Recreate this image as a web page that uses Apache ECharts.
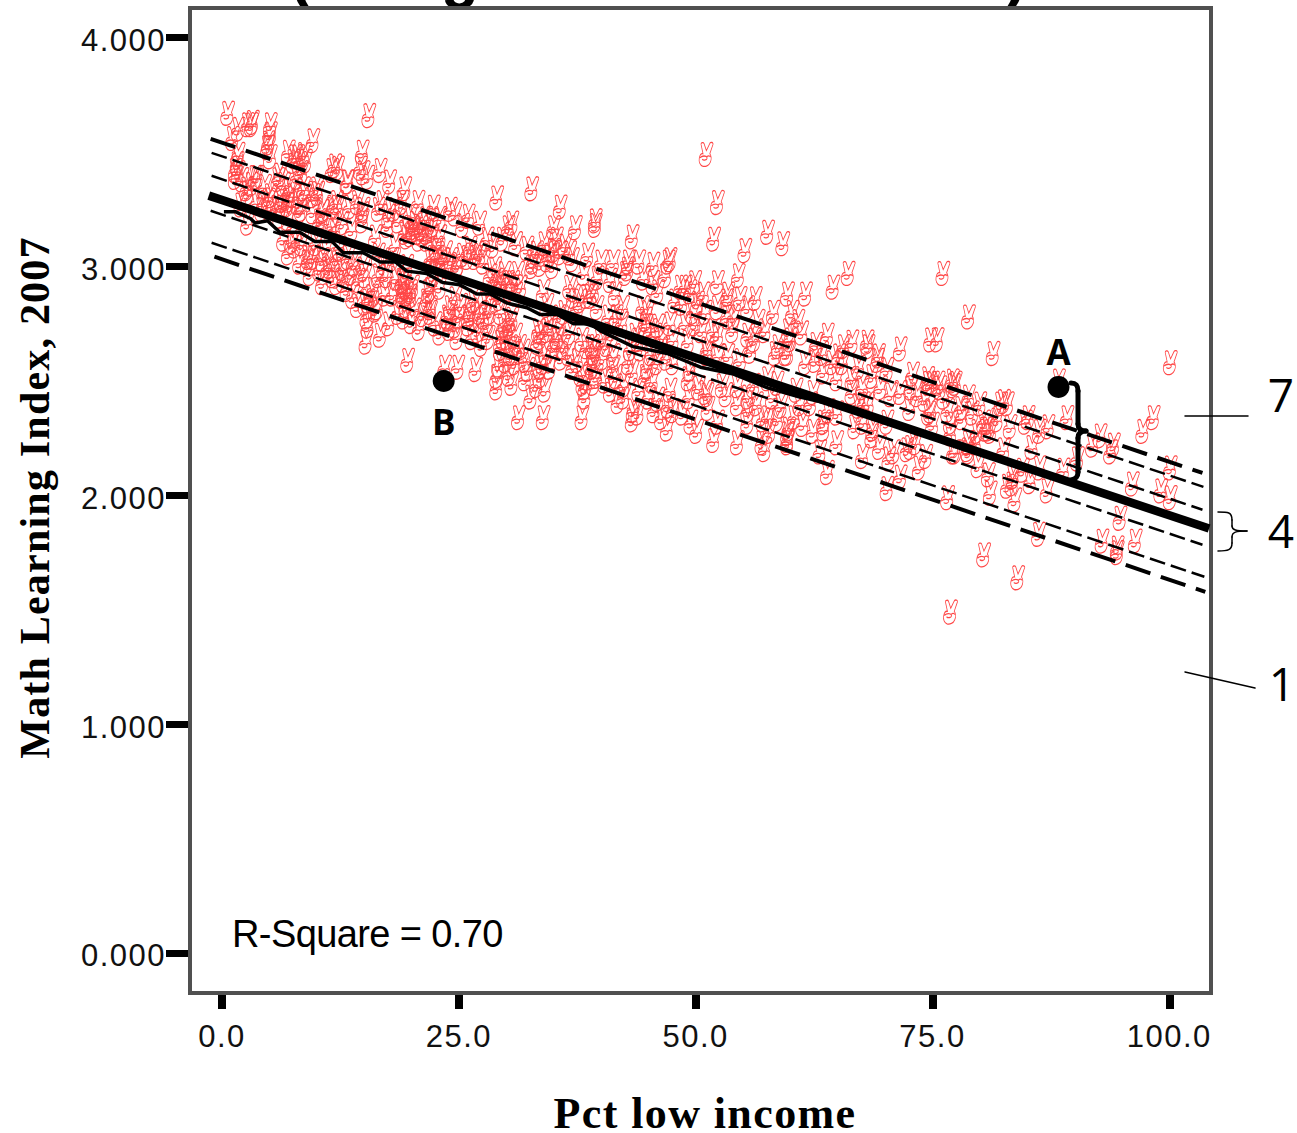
<!DOCTYPE html>
<html>
<head>
<meta charset="utf-8">
<title>Math Learning Index vs Pct low income</title>
<script src="https://cdn.jsdelivr.net/npm/echarts@6/dist/echarts.min.js"></script>
<style>
html,body{margin:0;padding:0;background:#fff}
#chart{width:1297px;height:1133px}
text[style*="31px"]{letter-spacing:1.5px}
text[style*="38px"]{letter-spacing:-0.6px}
text[style*="44px"]{letter-spacing:1.4px}
text[style*="42px"]{letter-spacing:1.2px}
</style>
</head>
<body>
<div id="chart"></div>
<script>
const xAxisTicks = [0, 25, 50, 75, 100];
const yAxisTicks = [0, 1, 2, 3, 4];
const xAxisTitle = 'Pct low income';
const yAxisTitle = 'Math Learning Index, 2007';
const rSquareNote = 'R-Square = 0.70';

const schoolsLowPoverty = [
[0.6,3.67],[1.7,3.60],[1.1,3.56],[2.7,3.62],[3.1,3.62],[3.2,3.63],[5.1,3.62],[5.1,3.58],[4.9,3.54],[4.8,3.52],
[5.1,3.48],[1.7,3.49],[1.6,3.45],[1.4,3.42],[1.7,3.41],[1.4,3.39],[9.6,3.55],[7.0,3.50],[7.7,3.48],[8.0,3.48],
[8.6,3.49],[7.5,3.46],[8.2,3.45],[8.8,3.46],[6.1,3.40],[5.9,3.38],[7.9,3.39],[8.4,3.41],[3.5,3.39],[2.7,3.32],
[4.5,3.35],[4.3,3.27],[4.9,3.29],[4.2,3.25],[5.1,3.25],[6.3,3.29],[7.0,3.29],[5.8,3.26],[6.4,3.26],[8.0,3.28],
[8.4,3.25],[8.8,3.32],[10.1,3.32],[11.6,3.42],[12.2,3.43],[13.3,3.37],[14.8,3.50],[14.6,3.43],[14.9,3.41],[15.4,3.39],
[16.7,3.42],[17.7,3.37],[19.3,3.34],[15.5,3.66],[16.9,3.28],[16.5,3.25],[14.8,3.23],[14.8,3.20],[14.9,3.25],[13.5,3.26],
[12.2,3.26],[11.9,3.16],[12.7,3.19],[13.7,3.16],[10.6,3.24],[10.6,3.19],[11.6,3.18],[7.7,3.09],[9.1,3.04],[9.0,3.02],
[10.6,3.03],[10.3,2.99],[10.6,2.93],[12.1,3.03],[12.7,2.99],[12.1,2.93],[11.4,3.00],[14.4,2.94],[15.1,2.96],[15.4,2.85],
[15.1,2.84],[16.5,2.96],[17.4,2.96],[17.2,2.88],[16.2,2.81],[15.3,2.78],[15.4,2.74],[15.2,2.67],[16.2,3.13],[17.5,3.18],
[18.3,3.09],[19.3,3.15],[20.1,3.17],[19.5,3.00],[19.0,2.93],[19.5,2.88],[20.1,2.91],
[11.9,3.44],[13.2,3.37],[10.0,3.34],[9.6,3.31],[8.6,3.34],[3.7,3.28],[5.1,3.31],[2.6,3.34],[3.7,3.39],[7.5,3.31],
[8.2,3.24],[9.6,3.24],[10.7,3.25],[6.9,3.27],[10.3,3.20],[11.7,3.26],[12.1,3.28],[14.3,3.28],[9.6,3.04],[11.1,2.99],
[11.7,2.96],[12.8,2.94],[14.9,2.99],[17.0,2.99],[15.8,2.87],[16.4,2.82],[2.7,3.19],[7.4,3.11],
[12.4,3.08],[13.3,3.04],[14.0,3.01],[13.6,2.97],[13.2,2.90],[13.8,2.87],[14.3,2.83],[16.0,2.90],[16.5,3.05],[17.9,3.03],
[18.4,2.95],[18.0,2.88],[18.6,2.80],[17.6,2.75],[16.7,2.70],[6.5,3.12],[7.0,3.06],[8.2,3.02],[9.3,2.97],[9.9,3.10],
[11.0,3.08],[8.4,3.10],[2.1,3.38],[2.0,3.27],[3.1,3.36],[6.5,3.36],[7.1,3.33],[6.1,3.22],[7.0,3.21],[18.2,3.25],
[19.0,3.28],[17.6,3.22],[18.6,3.20]
];
const schoolsMidPoverty = [
[20.7,3.28],[22.3,3.26],[24.1,3.25],[24.6,3.23],[29.0,3.30],[32.7,3.34],[30.2,3.17],[30.6,3.19],[35.7,3.26],[35.0,3.17],
[37.3,3.17],[39.4,3.20],[19.9,3.22],[20.2,3.16],[20.7,3.15],[21.2,3.14],[19.5,3.13],[23.0,3.13],[22.3,3.04],[22.0,3.03],
[23.0,3.02],[23.3,3.03],[24.9,3.01],[27.2,3.05],[26.7,3.04],[25.9,3.04],[28.6,3.09],[35.0,3.07],[34.3,3.03],[33.6,3.01],
[36.7,3.06],[35.7,3.06],[34.6,3.05],[32.7,3.00],[29.0,2.94],[29.4,2.93],[30.1,2.93],[30.7,2.93],[28.3,2.96],[31.2,2.97],
[19.3,2.91],[19.9,2.89],[19.0,2.87],[21.8,2.89],[21.6,2.85],[22.0,2.82],[23.0,2.91],[24.1,2.82],[23.9,2.77],[26.2,2.81],
[26.0,2.78],[27.2,2.80],[26.0,2.75],[23.0,2.71],[22.5,2.75],[24.8,2.69],[24.6,2.74],[28.3,2.80],[28.0,2.75],[28.1,2.69],
[29.4,2.80],[29.7,2.74],[30.4,2.75],[30.1,2.69],[29.4,2.67],[30.7,2.62],[19.6,2.59],[23.5,2.56],[24.9,2.56],[26.8,2.55],
[29.0,2.52],[29.0,2.47],[30.6,2.49],[32.0,2.51],[31.3,2.34],[33.9,2.34],[38.0,2.34],[38.3,2.47],[38.3,2.43],[33.6,2.52],
[33.9,2.58],[33.3,2.67],[33.6,2.69],[34.3,2.72],[35.0,2.65],[35.4,2.68],[32.0,2.59],[33.9,2.89],[33.4,2.72],[36.7,2.91],
[37.8,2.85],[37.5,2.82],[38.9,2.87],[39.2,2.89],[36.7,2.71],[38.0,2.68],[39.1,2.65],[37.5,2.59],[39.2,2.62],[38.9,2.58],
[21.6,3.15],[22.7,3.04],[26.9,3.06],[27.6,3.02],[24.8,3.00],[32.8,3.02],[31.5,2.91],[29.0,2.91],[37.1,2.87],[38.5,2.87],
[19.1,2.89],[19.9,2.87],[19.0,2.94],[22.0,2.80],[22.3,2.96],[22.0,2.90],[23.8,2.78],[26.5,2.77],[27.6,2.78],[30.1,2.72],
[30.6,2.77],[29.7,2.69],[33.9,2.71],[35.4,2.69],[33.6,2.56],[29.4,2.64],[30.4,2.62],[38.1,2.49],[38.5,2.65],
[20.4,3.19],[21.0,3.17],[19.9,3.14],[20.8,3.12],[21.6,3.12],[22.2,3.13],[22.6,3.08],[23.6,3.06],[24.2,3.03],[23.8,3.00],
[25.4,3.05],[26.2,3.08],[28.8,2.99],[29.8,2.97],[30.4,2.90],[31.0,2.88],[28.6,2.88],[29.3,2.86],[33.2,3.06],[34.0,3.10],
[35.3,3.12],[36.2,3.09],[37.0,3.03],[34.9,3.00],[19.4,2.83],[20.3,2.81],[19.2,2.78],[20.0,2.76],[21.2,2.79],[20.8,2.73],
[24.6,2.86],[25.2,2.83],[25.0,2.78],[24.0,2.73],[26.6,2.85],[27.0,2.72],[26.4,2.69],[27.4,2.66],[27.9,2.84],[31.0,2.70],
[31.4,2.65],[30.9,2.58],[29.9,2.59],[29.2,2.57],[31.8,2.63],[32.3,2.55],[30.3,2.53],[34.2,2.62],[34.6,2.56],[35.8,2.60],
[36.0,2.65],[34.8,2.75],[35.6,2.78],[34.3,2.83],[36.1,2.80],[33.2,2.48],[34.1,2.46],[32.6,2.43],[36.6,2.62],[37.0,2.56],
[37.9,2.53],[21.5,3.21],[23.0,3.21],[22.2,3.18],[25.4,3.18],[26.0,3.22],[27.2,3.19],[28.0,3.12],[29.6,3.12],[31.0,3.10],
[32.2,3.08],[38.6,3.05],[38.2,2.97],[39.6,2.95],[39.5,2.52]
];
const schoolsHighPoverty = [
[43.3,3.13],[39.4,3.18],[51.9,3.12],[55.2,3.07],[57.6,3.15],[59.2,3.10],[42.8,2.99],[42.9,3.02],[42.6,2.97],[47.1,3.02],
[47.3,3.03],[46.8,2.96],[41.0,2.94],[44.5,2.95],[45.5,2.93],[41.5,2.88],[46.0,2.89],[48.4,2.91],[48.9,2.91],[49.9,2.93],
[49.4,2.89],[52.3,2.93],[54.5,2.96],[50.8,2.88],[53.4,2.88],[53.3,2.85],[54.7,2.86],[56.3,2.86],[55.5,2.82],[58.2,2.80],
[59.7,2.88],[42.3,2.82],[39.6,2.82],[44.4,2.82],[44.7,2.77],[44.9,2.80],[44.7,2.74],[45.2,2.72],[46.0,2.74],[46.5,2.69],
[45.7,2.70],[47.3,2.75],[47.6,2.68],[48.9,2.75],[49.7,2.80],[49.9,2.75],[49.2,2.67],[51.2,2.64],[51.9,2.72],[53.9,2.72],
[55.5,2.70],[58.7,2.65],[59.8,2.72],[58.4,2.62],[59.5,2.62],[42.2,2.75],[39.9,2.69],[39.4,2.61],[39.1,2.56],[41.3,2.61],
[41.3,2.56],[43.1,2.64],[43.3,2.54],[44.7,2.52],[44.9,2.56],[47.6,2.58],[49.2,2.51],[49.4,2.55],[51.2,2.62],[52.4,2.61],
[53.4,2.61],[54.7,2.59],[55.8,2.63],[41.8,2.41],[41.0,2.46],[39.2,2.49],[43.4,2.37],[43.9,2.36],[43.3,2.33],[46.0,2.42],
[47.3,2.46],[47.0,2.29],[47.6,2.37],[47.1,2.39],[51.2,2.44],[51.3,2.38],[51.0,2.45],[51.9,2.24],[52.3,2.32],[54.4,2.23],
[54.4,2.48],[54.4,2.40],[55.5,2.43],[55.5,2.37],[57.0,2.23],[57.3,2.20],[57.1,2.33],[57.6,2.34],[58.6,2.33],[59.7,2.24],
[57.6,2.51],[58.6,2.49],[55.5,2.32],[51.1,3.49],[52.3,3.28],
[61.6,2.88],[64.5,2.91],[66.1,2.97],[76.1,2.97],[78.8,2.78],[81.4,2.62],[74.8,2.68],[75.5,2.68],[61.2,2.71],[60.0,2.68],
[63.9,2.70],[59.7,2.62],[65.6,2.65],[66.5,2.67],[65.1,2.61],[65.5,2.58],[68.1,2.67],[68.2,2.65],[69.3,2.61],[69.2,2.59],
[70.2,2.55],[71.6,2.64],[72.9,2.53],[72.7,2.47],[71.6,2.45],[74.5,2.51],[74.6,2.49],[75.6,2.49],[77.1,2.50],[77.2,2.48],
[78.8,2.43],[82.2,2.40],[82.5,2.41],[74.2,2.42],[74.8,2.37],[76.6,2.37],[78.1,2.34],[61.6,2.58],[62.6,2.59],[63.5,2.54],
[64.9,2.51],[66.5,2.51],[67.2,2.56],[66.5,2.45],[68.6,2.52],[67.7,2.40],[68.2,2.40],[67.2,2.39],[62.4,2.45],[61.0,2.40],
[62.1,2.40],[64.0,2.37],[64.9,2.36],[63.5,2.32],[63.5,2.29],[62.4,2.28],[59.7,2.27],[59.7,2.23],[59.8,2.29],[64.9,2.23],
[63.1,2.19],[63.9,2.10],[66.8,2.30],[67.6,2.32],[68.7,2.29],[70.2,2.32],[68.6,2.26],[67.6,2.17],[70.9,2.19],[72.3,2.20],
[72.7,2.21],[73.2,2.23],[71.6,2.08],[70.2,2.03],[76.6,1.99],[76.9,2.32],[76.9,2.27],[77.2,2.19],[78.7,2.20],[79.7,2.28],
[80.4,2.32],[80.9,2.29],[81.1,2.01],[82.9,2.40],[82.5,2.20],[82.9,2.04],[83.5,2.08],
[100.1,2.58],[75.0,2.49],[77.4,2.49],[75.8,2.47],[74.6,2.36],[85.1,2.34],[84.8,2.32],[89.2,2.34],[80.6,2.29],[81.1,2.28],
[78.8,2.23],[79.5,2.23],[85.5,2.21],[77.4,2.19],[78.8,2.19],[84.5,2.11],[88.8,2.11],[90.3,2.16],[83.4,2.05],[83.7,1.98],
[87.1,2.02],[92.7,2.26],[91.9,2.22],[94.1,2.22],[93.8,2.19],[98.3,2.34],[97.2,2.28],[100.1,2.12],[96.1,2.05],[99.1,2.02],
[100.1,1.99],[94.8,1.90],[92.9,1.80],[94.5,1.77],[94.5,1.75],[96.4,1.80],[86.2,1.83],[80.4,1.74],[84.0,1.64],[76.9,1.49],
[88.3,2.50],
[40.2,2.60],[40.6,2.66],[41.2,2.70],[40.8,2.78],[41.6,2.78],[40.4,2.50],[41.6,2.52],[42.4,2.48],[42.9,2.58],[42.4,2.43],
[43.6,2.70],[43.9,2.68],[44.2,2.64],[45.3,2.62],[45.9,2.58],[46.3,2.64],[46.9,2.60],[44.0,2.46],[45.0,2.43],[45.6,2.37],
[46.4,2.34],[45.4,2.50],[40.0,3.02],[41.3,3.02],[44.0,3.02],[45.5,3.01],
[47.8,2.85],[48.5,2.84],[50.2,2.84],[51.0,2.80],[52.3,2.82],[53.4,2.78],[50.6,2.72],[52.3,2.70],[54.0,2.78],[56.6,2.76],
[57.3,2.72],[56.2,2.68],[60.2,2.80],[60.8,2.76],[50.3,2.47],[49.3,2.43],[48.6,2.36],[49.5,2.32],[52.8,2.48],[53.2,2.44],
[56.1,2.48],[56.4,2.40],[58.1,2.43],[59.0,2.39],[60.6,2.46],[60.4,2.34],[61.3,2.31],[57.8,2.28],[50.1,2.28],
[62.7,2.66],[63.3,2.62],[64.4,2.58],[67.6,2.47],[69.5,2.47],[70.6,2.44],[72.6,2.38],[73.4,2.44],[75.0,2.31],[76.2,2.43],
[78.0,2.38],[79.2,2.36],[80.0,2.40],[81.8,2.33],[83.2,2.30],[86.3,2.28],[87.2,2.30],[86.3,2.12],[85.3,2.06],[69.4,2.21],
[70.4,2.16],[74.3,2.17],[73.6,2.12],[79.8,2.13],[80.9,2.09]
];

const fitLine = [[-1.4,3.31],[104.2,1.855]];
const upperOuter = [[-1.2,3.558],[103.5,2.098]];
const upperMiddle = [[-1.1,3.497],[103.6,2.037]];
const upperInner = [[-1.1,3.397],[103.5,1.937]];
const lowerInner = [[-1.2,3.244],[103.5,1.784]];
const lowerMiddle = [[-1.1,3.104],[103.7,1.644]];
const lowerOuter = [[-0.8,3.043],[103.8,1.578]];
const jaggedLine = [[0.2,3.24],[1.4,3.24],[1.9,3.23],[3.0,3.21],[3.5,3.19],[4.8,3.20],[6.1,3.15],[6.9,3.15],[8.2,3.15],[9.8,3.11],
[11.6,3.11],[12.8,3.06],[14.9,3.06],[16.7,3.02],[18.3,3.02],[19.5,2.98],[21.6,2.97],[23.3,2.93],[25.1,2.92],[26.9,2.88],
[28.3,2.88],[30.1,2.84],[32.2,2.82],[33.6,2.79],[35.4,2.79],[37.1,2.75],[38.9,2.75],[39.9,2.72],[43.4,2.65],[47.0,2.62],
[50.5,2.56],[54.0,2.53],[57.6,2.47],[61.0,2.43],[66.3,2.38],[76.9,2.23],[92.1,2.03],[96.3,1.96],[99.1,1.92]];
const pointA = [88.3,2.474];
const pointB = [23.4,2.50];

const handSymbol = 'path://M6 17 L3.4 3.4 C3 0.6 6.6 0 7.4 2.2 L10.4 12.6 L15 1.8 C16.2 -0.6 19.8 0.6 19.2 3.2 L15 17 C17 20 17.4 25 15.6 29.6 C14 34.6 9 36.6 5.4 35.4 C2 34 0.2 29 1 24 C1.6 20 3.4 16.4 6 17 Z M2 23 C4.6 19.6 10.4 19.6 11.4 23 C11.8 26 7 27.6 4.8 25.2 M11 21.4 C12.6 19.6 15 19.6 15.8 22';

function scatterSeries(name, data){
  return {
    name, type:'scatter', data, symbol:handSymbol, symbolSize:[14,24], z:2,
    itemStyle:{color:'transparent',borderColor:'#ff4646',borderWidth:1,opacity:1},
    emphasis:{disabled:true}, silent:true
  };
}
function lineSeries(name, data, width, dash, z){
  return {
    name, type:'line', data, showSymbol:false, z:z||4, silent:true,
    lineStyle:{color:'#000',width,type:dash||'solid',cap:'butt'}, emphasis:{disabled:true}
  };
}
const thickDash=[26,11], thinDash=[16,6];

const chart = echarts.init(document.getElementById('chart'), null, {renderer:'svg', width:1297, height:1133});
const sansAnn = '"Open Sans","Noto Sans",sans-serif';
function ann(text,x,y,size,weight,align,family){
  return {type:'text',x,y,silent:true,z:50,style:{text,fontFamily:family||sansAnn,fontSize:size,fontWeight:weight||'normal',fill:'#000',align:align||'center',verticalAlign:'middle'}};
}
const strokeStyle=w=>({fill:'none',stroke:'#000',lineWidth:w,lineCap:'round'});
function seg(x1,y1,x2,y2,w){
  return {type:'line',silent:true,z:50,shape:{x1,y1,x2,y2},style:strokeStyle(w)};
}
function bez(x1,y1,cpx1,cpy1,cpx2,cpy2,x2,y2,w){
  return {type:'bezierCurve',silent:true,z:50,shape:{x1,y1,cpx1,cpy1,cpx2,cpy2,x2,y2},style:strokeStyle(w)};
}
function clipped(text,x){
  return {type:'text',x,y:5,silent:true,z:0,style:{text,fontFamily:'"Liberation Sans",sans-serif',fontSize:62,fontWeight:'bold',fill:'#000',align:'center',verticalAlign:'bottom'}};
}

chart.setOption({
  animation:false,
  backgroundColor:'#fff',
  grid:{show:true,left:190,top:8,width:1021,height:985,outerBoundsMode:'none',backgroundColor:'transparent',borderColor:'#505050',borderWidth:4,containLabel:false,z:1},
  xAxis:{
    type:'value',min:-3.38,max:104.4,
    name:xAxisTitle,nameLocation:'middle',nameGap:98,
    nameTextStyle:{fontFamily:'"Liberation Serif",serif',fontWeight:'bold',fontSize:44,color:'#000',padding:[0,0,0,9]},
    axisLine:{show:false,onZero:false},
    axisTick:{show:true,length:16,customValues:xAxisTicks,lineStyle:{color:'#000',width:8}},
    axisLabel:{show:true,customValues:xAxisTicks,formatter:v=>Number(v).toFixed(1),margin:28,fontFamily:'"Liberation Sans",sans-serif',fontSize:31,color:'#111',hideOverlap:false},
    splitLine:{show:false}
  },
  yAxis:{
    type:'value',min:-0.175,max:4.13,
    name:yAxisTitle,nameLocation:'middle',nameGap:134,
    nameTextStyle:{fontFamily:'"Liberation Serif",serif',fontWeight:'bold',fontSize:42,color:'#000',padding:[0,0,0,6]},
    axisLine:{show:false,onZero:false},
    axisTick:{show:true,length:24,customValues:yAxisTicks,lineStyle:{color:'#000',width:7}},
    axisLabel:{show:true,customValues:yAxisTicks,formatter:v=>Number(v).toFixed(3),margin:24,verticalAlign:'top',lineHeight:6,fontFamily:'"Liberation Sans",sans-serif',fontSize:31,color:'#111',hideOverlap:false},
    splitLine:{show:false}
  },
  series:[
    scatterSeries('Schools low poverty',schoolsLowPoverty),
    scatterSeries('Schools mid poverty',schoolsMidPoverty),
    scatterSeries('Schools high poverty',schoolsHighPoverty),
    lineSeries('Upper outer',upperOuter,4,thickDash),
    lineSeries('Upper middle',upperMiddle,2.5,thinDash),
    lineSeries('Upper inner',upperInner,2.5,thinDash),
    lineSeries('Lower inner',lowerInner,2.5,thinDash),
    lineSeries('Lower middle',lowerMiddle,2.5,thinDash),
    lineSeries('Lower outer',lowerOuter,4,thickDash),
    lineSeries('Jagged',jaggedLine,3.5,null,5),
    lineSeries('Fit',fitLine,8.5,null,6),
    {type:'scatter',z:8,silent:true,symbol:'circle',symbolSize:22,itemStyle:{color:'#000',opacity:1},
     data:[{value:pointA,name:'A',label:{show:true,position:'top',distance:7,formatter:'A'}},
           {value:pointB,name:'B',label:{show:true,position:'bottom',distance:12,formatter:'B'}}],
     label:{fontFamily:sansAnn,fontWeight:'bold',fontSize:35,color:'#000',opacity:1},
     emphasis:{disabled:true}}
  ],
  graphic:[
    clipped('(',300),clipped('g',460),clipped(')',1016),
    ann(rSquareNote,232,934,38,'normal','left','"Liberation Sans",sans-serif'),
    ann('7',1281,394,46),ann('4',1281,530,46),ann('1',1282,683,46),
    seg(1185,416,1248,416,1.5),
    seg(1185,672,1255,688,1.5),
    bez(1218,512,1228,512,1232,512,1232,520,1.5),seg(1232,520,1232,526,1.5),bez(1232,526,1232,530,1236,531,1247,531,1.5),
    bez(1247,531,1236,531,1232,532,1232,537,1.5),seg(1232,537,1232,543,1.5),bez(1232,543,1232,550,1228,551,1218,551,1.5),
    bez(1071,383,1076,383,1078,385,1078,391,5),seg(1078,391,1078,424,5),bez(1078,424,1078,429,1081,431,1086,431,5),
    bez(1086,431,1081,431,1078,433,1078,438,5),seg(1078,438,1078,472,5),bez(1078,472,1078,477,1076,479,1071,480,5)
  ]
});
</script>
</body>
</html>
